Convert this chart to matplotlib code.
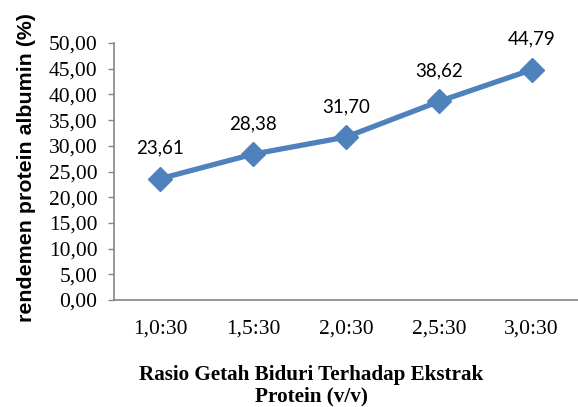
import matplotlib.pyplot as plt
import numpy as np

# Data
rasio = ["1,0:30", "1,5:30", "2,0:30", "2,5:30", "3,0:30"]
rendemen = [23.61, 28.38, 31.70, 38.62, 44.79]
y_ticks = [0, 5, 10, 15, 20, 25, 30, 35, 40, 45, 50]

warna = "#4F81BD"
abu = "#868686"


def koma(v):
    return f"{v:.2f}".replace(".", ",")


fig = plt.figure(figsize=(5.78, 4.07), dpi=100)
ax = fig.add_axes([114 / 578, 1 - 300 / 407, 1 - 114 / 578, (300 - 43) / 407])

x = np.arange(len(rasio))
ax.plot(x, rendemen, color=warna, linewidth=3.8, marker="D", markersize=12,
        markerfacecolor=warna, markeredgecolor=warna)

# label nilai di atas titik
for xi, v in zip(x, rendemen):
    ax.annotate(koma(v), (xi, v), xytext=(0, 22), textcoords="offset points",
                ha="center", va="center", fontsize=13.5, family="Lato")

ax.set_xlim(-0.5, len(rasio) - 0.5)
ax.set_ylim(0, 50)
ax.set_yticks(y_ticks)
ax.set_yticklabels([koma(t) for t in y_ticks], family="Liberation Serif", fontsize=15.5)
ax.set_xticks(x)
ax.set_xticklabels(rasio, family="Liberation Serif", fontsize=15.5)
ax.tick_params(axis="y", direction="out", length=4, width=1, color=abu, pad=8)
ax.tick_params(axis="x", length=0, pad=14)

for s in ["top", "right"]:
    ax.spines[s].set_visible(False)
for s in ["left", "bottom"]:
    ax.spines[s].set_color(abu)
    ax.spines[s].set_linewidth(1.2)

fig.text(27 / 578, 1 - 167 / 407, "rendemen protein albumin (%)", rotation=90,
         ha="center", va="center", family="Liberation Sans", fontweight="bold",
         fontsize=15.4)

fig.text(311 / 578, 1 - 386 / 407, "Rasio Getah Biduri Terhadap Ekstrak\nProtein (v/v)",
         ha="center", va="center", family="Liberation Serif", fontweight="bold",
         fontsize=15.2, linespacing=1.08)

fig.savefig("out.png", dpi=100)
